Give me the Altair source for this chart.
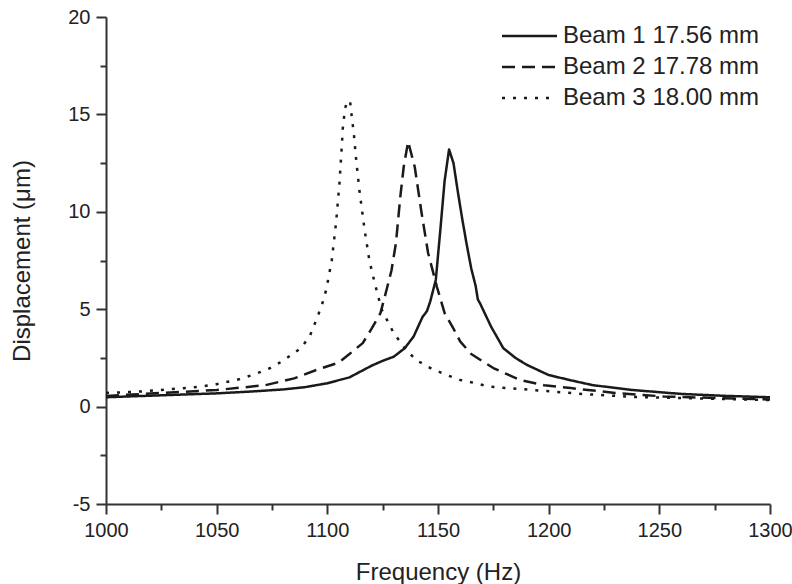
import altair as alt
import pandas as pd

# Frequency response of three cantilever beams of different length
beam_labels = ["Beam 1 17.56 mm", "Beam 2 17.78 mm", "Beam 3 18.00 mm"]

freq_beam1 = [1000, 1025, 1050, 1065, 1080, 1090, 1100, 1110, 1115, 1120, 1125,
              1130, 1135, 1139, 1143, 1145, 1146.5, 1149, 1151, 1153, 1155, 1157,
              1159, 1161, 1163, 1165, 1167, 1168, 1169, 1174, 1179.5, 1185, 1190,
              1200, 1210, 1220, 1238, 1260, 1280, 1300]
disp_beam1 = [0.48, 0.58, 0.68, 0.77, 0.88, 1.0, 1.2, 1.5, 1.8, 2.1, 2.35,
              2.56, 3.0, 3.6, 4.6, 4.9, 5.4, 6.5, 9.0, 11.6, 13.2, 12.5,
              11.0, 9.6, 8.3, 7.1, 6.2, 5.5, 5.3, 4.1, 3.0, 2.5, 2.15,
              1.62, 1.35, 1.1, 0.85, 0.65, 0.55, 0.48]

freq_beam2 = [1000, 1025, 1050, 1072, 1085, 1095, 1105, 1110, 1116, 1120, 1124,
              1127, 1129, 1131, 1133, 1134.5, 1136.5, 1139.5, 1142.5, 1145.5,
              1149.5, 1153, 1157, 1160, 1165, 1175, 1187, 1198, 1210, 1230, 1252,
              1276, 1300]
disp_beam2 = [0.55, 0.7, 0.85, 1.1, 1.45, 1.88, 2.25, 2.7, 3.26, 4.0, 4.8,
              6.1, 7.0, 8.4, 10.8, 12.3, 13.6, 12.3, 10.0, 7.9,
              6.15, 4.8, 4.0, 3.35, 2.7, 1.98, 1.37, 1.1, 0.95, 0.7, 0.52,
              0.44, 0.37]

freq_beam3 = [1000, 1015, 1030, 1041, 1050, 1060, 1067, 1074, 1080, 1088, 1092,
              1095, 1097.5, 1099.5, 1102, 1104, 1105.5, 1106.5, 1107, 1108, 1109,
              1110.3, 1111, 1112, 1113, 1114.5, 1116.8, 1119, 1121.5, 1124.5, 1130,
              1135, 1140, 1147, 1154, 1160, 1167, 1173.5, 1193, 1215, 1238, 1260,
              1300]
disp_beam3 = [0.7, 0.77, 0.9, 1.0, 1.15, 1.4, 1.65, 1.97, 2.35, 3.0, 3.6,
              4.45, 5.2, 6.0, 7.5, 9.5, 11.5, 13.3, 14.3, 15.3, 15.7,
              15.65, 14.9, 14.0, 12.7, 11.1, 9.1, 7.5, 6.3, 5.0, 3.77,
              3.0, 2.4, 1.95, 1.62, 1.37, 1.2, 1.02, 0.85, 0.65, 0.5, 0.44,
              0.34]

x_ticks = list(range(1000, 1301, 25))
y_ticks = [-5 + 2.5 * i for i in range(11)]

rows = []
for label, fs, ds in zip(beam_labels,
                         [freq_beam1, freq_beam2, freq_beam3],
                         [disp_beam1, disp_beam2, disp_beam3]):
    for f, d in zip(fs, ds):
        rows.append({"freq": f, "disp": d, "beam": label})
df = pd.DataFrame(rows)

FONT = "Liberation Sans"
INK = "#1a1a1a"
AXIS = "#333333"

x_axis = alt.Axis(
    title="Frequency (Hz)",
    values=x_ticks,
    labelExpr="datum.value % 50 === 0 ? '' + datum.value : ''",
    tickSize={"condition": {"test": "datum.value % 50 === 0", "value": 10}, "value": 6},
    labelPadding=6,
    labelFlush=False,
    labelOverlap=False,
    grid=False,
    titleY=75,
    titleBaseline="alphabetic",
)
y_axis = alt.Axis(
    title="Displacement (\u03bcm)",
    values=y_ticks,
    labelExpr="datum.value % 5 === 0 ? '' + datum.value : ''",
    tickSize={"condition": {"test": "datum.value % 5 === 0", "value": 10}, "value": 6},
    labelPadding=6,
    labelFlush=False,
    labelOverlap=False,
    grid=False,
    titleX=-77,
    titleY=243.5,
    titleAngle=270,
    titleAlign="center",
    titleBaseline="alphabetic",
)

# a wide horizontal stroke as legend symbol: its length is twice sqrt(symbolSize)
legend_symbol = "M-2,0H2"

chart = (
    alt.Chart(df)
    .mark_line(strokeWidth=2.5, color=INK, strokeCap="butt", strokeJoin="round")
    .encode(
        x=alt.X("freq:Q", scale=alt.Scale(domain=[1000, 1300], nice=False, zero=False),
                axis=x_axis),
        y=alt.Y("disp:Q", scale=alt.Scale(domain=[-5, 20], nice=False, zero=False),
                axis=y_axis),
        strokeDash=alt.StrokeDash(
            "beam:N",
            scale=alt.Scale(domain=beam_labels, range=[[1, 0], [13, 7], [3, 8]]),
            legend=alt.Legend(
                title=None,
                orient="none",
                legendX=408.5,
                legendY=4,
                symbolType=legend_symbol,
                symbolSize=756,
                symbolStrokeWidth=2.5,
                symbolStrokeColor=INK,
                symbolFillColor="transparent",
                labelFont=FONT,
                labelFontSize=24,
                labelColor="#222222",
                labelOffset=18.5,
                rowPadding=4,
                padding=0,
                labelLimit=400,
            ),
        ),
    )
    .properties(
        width=664,
        height=487,
        autosize=alt.AutoSizeParams(type="none"),
        padding={"left": 106, "top": 17, "right": 22, "bottom": 80},
        background="white",
    )
    .configure_view(stroke=None)
    .configure_axis(
        domainColor=AXIS,
        domainWidth=2,
        tickColor=AXIS,
        tickWidth=2,
        labelFont=FONT,
        labelFontSize=20,
        labelColor="#222222",
        titleFont=FONT,
        titleFontSize=24,
        titleFontWeight="normal",
        titleColor="#222222",
    )
)

chart.save("out.html", embed_options={"renderer": "svg", "actions": False})
